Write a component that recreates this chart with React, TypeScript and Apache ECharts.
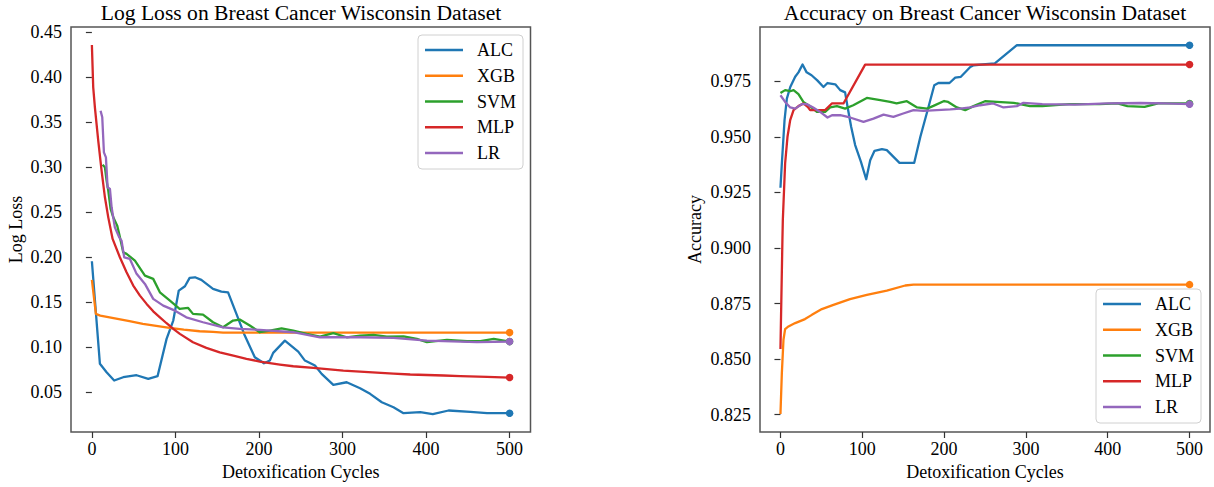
import React, { useEffect, useRef } from "react";
import * as echarts from "echarts";

type Pt = [number, number];

const modelNames = ["ALC", "XGB", "SVM", "MLP", "LR"];
const modelColors = ["#1f77b4", "#ff7f0e", "#2ca02c", "#d62728", "#9467bd"];

const cycleTicks = [0, 100, 200, 300, 400, 500];
const lossTicks = [0.05, 0.1, 0.15, 0.2, 0.25, 0.3, 0.35, 0.4, 0.45];
const accTicks = [0.825, 0.85, 0.875, 0.9, 0.925, 0.95, 0.975];

// Log loss (left panel): [cycle, value]
const lossALC: Pt[] = [
  [0, 0.1956], [9.6, 0.0816], [17.6, 0.0722], [26.7, 0.063], [37.5, 0.0667], [53.5, 0.0689],
  [67.5, 0.0649], [78.6, 0.0678], [89.4, 0.1093], [97.4, 0.1297], [104, 0.163], [111.4, 0.1678],
  [117, 0.1771], [123.4, 0.1778], [131, 0.1749], [145, 0.1649], [155, 0.1619], [163, 0.1611],
  [173, 0.1371], [183, 0.113], [195, 0.0889], [206, 0.0822], [213, 0.0852], [217, 0.0938],
  [231, 0.1074], [247, 0.0952], [255, 0.0852], [267, 0.0797], [275, 0.0704], [289, 0.0582],
  [305, 0.0611], [321, 0.0544], [333, 0.0482], [347, 0.0389], [361, 0.0333], [373, 0.0267],
  [393, 0.0278], [408, 0.0256], [427, 0.0297], [453, 0.0282], [473, 0.0267], [500, 0.0267],
];
const lossXGB: Pt[] = [
  [0, 0.1749], [4.8, 0.1371], [10, 0.1352], [27.5, 0.1322], [45, 0.129], [61, 0.126],
  [75, 0.124], [93, 0.1216], [110, 0.1195], [129, 0.1178], [145, 0.117], [157, 0.1163], [500, 0.1163],
];
const lossSVM: Pt[] = [
  [12.8, 0.303], [15.6, 0.3], [17.6, 0.2852], [19.6, 0.2741], [22.4, 0.2538], [25.6, 0.2444],
  [30.3, 0.2352], [32.7, 0.226], [37.5, 0.2056], [41.5, 0.2038], [51.5, 0.1963], [63.5, 0.1797],
  [73.4, 0.176], [81.4, 0.1611], [93.4, 0.1519], [105, 0.1427], [115, 0.1438], [121, 0.1371],
  [133, 0.1363], [145, 0.1278], [157, 0.1222], [169, 0.1297], [177, 0.1308], [189, 0.1241],
  [201, 0.1167], [213, 0.1186], [227, 0.1211], [241, 0.1186], [257, 0.1149], [273, 0.1119],
  [289, 0.1156], [305, 0.1111], [321, 0.113], [337, 0.1138], [353, 0.1119], [373, 0.1122],
  [389, 0.1093], [401, 0.1056], [425, 0.1082], [449, 0.1067], [465, 0.1067], [481, 0.1093], [500, 0.1063],
];
const lossMLP: Pt[] = [
  [0, 0.436], [1.6, 0.3889], [3.6, 0.3667], [7.6, 0.3297], [11.6, 0.2963], [15.6, 0.2667],
  [19.6, 0.2444], [24.8, 0.2204], [33.5, 0.2], [41.5, 0.1833], [49.5, 0.1686], [57.5, 0.1574],
  [65.5, 0.1482], [73.4, 0.14], [81.4, 0.1333], [89.4, 0.1267], [97.4, 0.1204], [105.3, 0.1149],
  [121, 0.1056], [137, 0.0993], [153, 0.0944], [169.3, 0.0908], [185, 0.0871], [201, 0.0841],
  [225, 0.0808], [241, 0.0789], [265, 0.0771], [301, 0.0741], [321, 0.073], [361, 0.0708],
  [381, 0.0697], [421, 0.0686], [441, 0.0678], [473, 0.0671], [500, 0.0663],
];
const lossLR: Pt[] = [
  [10.4, 0.363], [12.4, 0.3556], [14.4, 0.3167], [16.8, 0.3111], [18.8, 0.2778], [21.6, 0.276],
  [23.6, 0.2556], [27.5, 0.2333], [32.7, 0.2222], [35.5, 0.2186], [38.7, 0.2], [45.5, 0.1982],
  [53.5, 0.1816], [63.5, 0.1704], [73.4, 0.1538], [85.4, 0.1463], [97.4, 0.1416], [113, 0.1333],
  [133, 0.1278], [157, 0.1222], [177, 0.1204], [201, 0.1193], [241, 0.1167], [273, 0.1111],
  [321, 0.1111], [361, 0.1104], [401, 0.1074], [461, 0.1056], [500, 0.1063],
];

// Accuracy (right panel): [cycle, value]
const accALC: Pt[] = [
  [0, 0.9271], [1.7, 0.938], [5, 0.9575], [7.8, 0.9672], [12, 0.9724], [18, 0.977], [22, 0.979],
  [27, 0.9825], [32, 0.979], [38, 0.9777], [45, 0.9754], [52.6, 0.9724], [57.5, 0.9742], [67, 0.9736],
  [73, 0.971], [79, 0.97], [82, 0.9635], [86.4, 0.9545], [91.3, 0.9463], [98.3, 0.9388],
  [104.8, 0.9309], [109.7, 0.9395], [115, 0.9437], [124, 0.9445], [130, 0.944], [145.5, 0.9383],
  [163.5, 0.9383], [171, 0.95], [181, 0.9635], [188, 0.9732], [193, 0.9742], [206.6, 0.9742],
  [213.6, 0.9766], [220.5, 0.977], [232, 0.9814], [236, 0.9822], [262, 0.983], [289, 0.9912], [500, 0.9912],
];
const accXGB: Pt[] = [
  [0, 0.8253], [1.7, 0.8437], [3.7, 0.8587], [5.7, 0.8635], [9.8, 0.8647], [18, 0.8662], [30, 0.868],
  [38.4, 0.8699], [50.6, 0.8725], [64.8, 0.8744], [85, 0.877], [105.6, 0.8789], [130, 0.8808],
  [152.5, 0.8831], [162.6, 0.8835], [500, 0.8835],
];
const accSVM: Pt[] = [
  [0, 0.9697], [5.7, 0.971], [12, 0.9705], [16, 0.971], [22, 0.9692], [28, 0.9657], [36, 0.9638],
  [44.5, 0.9612], [54.6, 0.9612], [60.7, 0.9632], [69, 0.9638], [79, 0.9627], [89, 0.9642],
  [105.6, 0.9675], [122, 0.9665], [134, 0.9657], [142, 0.965], [154.5, 0.966], [167, 0.9632],
  [179, 0.9627], [187, 0.9639], [200, 0.9661], [205, 0.9657], [215.6, 0.9632], [225.8, 0.962],
  [236, 0.9638], [250, 0.966], [264.5, 0.9657], [285, 0.9653], [305, 0.9638], [320, 0.9638],
  [353, 0.9647], [390, 0.9647], [412, 0.965], [424, 0.9638], [445, 0.9635], [461.5, 0.965], [500, 0.965],
];
const accMLP: Pt[] = [
  [0, 0.8545], [2.4, 0.9036], [2.9, 0.9126], [5.7, 0.938], [8.6, 0.95], [11.9, 0.9575], [16, 0.962],
  [22, 0.9638], [28, 0.965], [34, 0.9632], [36.3, 0.962], [54.6, 0.962], [62.8, 0.965], [77, 0.965],
  [103.5, 0.9825], [500, 0.9825],
];
const accLR: Pt[] = [
  [0, 0.9687], [5.7, 0.9657], [12, 0.9632], [18, 0.9627], [26, 0.9647], [32, 0.9647], [40, 0.9632],
  [48.5, 0.9612], [57.5, 0.9587], [63, 0.9597], [73, 0.9597], [85, 0.9587], [101.5, 0.9567],
  [113.7, 0.9582], [126, 0.96], [138, 0.959], [150, 0.9605], [162.6, 0.962], [175, 0.9617],
  [191, 0.962], [207.5, 0.9623], [219.7, 0.9627], [232, 0.9632], [244, 0.9642], [260, 0.965],
  [272.6, 0.9632], [289, 0.9638], [297, 0.9653], [320, 0.9647], [360, 0.9645], [400, 0.965],
  [440, 0.9652], [470, 0.965], [500, 0.9647],
];

const lossSeries = [lossALC, lossXGB, lossSVM, lossMLP, lossLR];
const accSeries = [accALC, accXGB, accSVM, accMLP, accLR];

const FONT = "'Liberation Serif', 'Times New Roman', serif";

function makeXAxis(gridIndex: number) {
  return {
    type: "value",
    gridIndex,
    min: -25,
    max: 525,
    name: "Detoxification Cycles",
    nameLocation: "middle",
    nameGap: 28,
    nameTextStyle: { fontFamily: FONT, fontSize: 18, color: "#000" },
    axisLine: { show: false },
    axisTick: { show: true, customValues: cycleTicks, length: 6, lineStyle: { color: "#333", width: 1.2 } },
    axisLabel: { customValues: cycleTicks, margin: 8, fontFamily: FONT, fontSize: 18, color: "#000" },
    splitLine: { show: false },
  };
}

function makeYAxis(gridIndex: number, name: string, min: number, max: number, ticks: number[], digits: number, gap: number) {
  return {
    type: "value",
    gridIndex,
    min,
    max,
    name,
    nameLocation: "middle",
    nameGap: gap,
    nameTextStyle: { fontFamily: FONT, fontSize: 18, color: "#000" },
    axisLine: { show: false },
    axisTick: { show: true, customValues: ticks, length: 6, lineStyle: { color: "#333", width: 1.2 } },
    axisLabel: {
      customValues: ticks,
      margin: 9,
      fontFamily: FONT,
      fontSize: 18,
      color: "#000",
      formatter: (v: number) => v.toFixed(digits),
    },
    splitLine: { show: false },
  };
}

function makeSeries(data: Pt[], idx: number, axisIndex: number) {
  const last = data.length - 1;
  return {
    type: "line",
    name: modelNames[idx],
    xAxisIndex: axisIndex,
    yAxisIndex: axisIndex,
    data,
    symbol: "circle",
    showSymbol: true,
    showAllSymbol: true,
    symbolSize: (_v: any, p: any) => (p.dataIndex === last ? 7.5 : 0),
    lineStyle: { width: 2.3, color: modelColors[idx], join: "round" },
    itemStyle: { color: modelColors[idx] },
    emphasis: { disabled: true },
    silent: true,
    z: 2 + idx,
  };
}

function makeLegend(left: number, top: number) {
  return {
    orient: "vertical",
    left,
    top,
    data: modelNames,
    icon: "rect",
    itemWidth: 38,
    itemHeight: 2.5,
    itemGap: 7.75,
    padding: [6, 7, 7, 7],
    backgroundColor: "#fff",
    borderColor: "#d0d0d0",
    borderWidth: 1,
    borderRadius: 4,
    selectedMode: false,
    textStyle: { fontFamily: FONT, fontSize: 18, color: "#000", lineHeight: 18, padding: [0, 0, 0, 9] },
  };
}

export default function App() {
  const ref = useRef<HTMLDivElement>(null);
  useEffect(() => {
    if (!ref.current) return;
    const chart = echarts.init(ref.current, null, { renderer: "svg" });
    const gridStyle = { show: true, borderColor: "#555", borderWidth: 1.5, backgroundColor: "transparent" };
    chart.setOption({
      animation: false,
      backgroundColor: "#fff",
      grid: [
        { left: 71, top: 27, width: 459.5, height: 405, ...gridStyle },
        { left: 760, top: 27, width: 450, height: 405, ...gridStyle },
      ],
      xAxis: [makeXAxis(0), makeXAxis(1)],
      yAxis: [
        makeYAxis(0, "Log Loss", 0.0058, 0.456, lossTicks, 2, 46),
        makeYAxis(1, "Accuracy", 0.8172, 0.9994, accTicks, 3, 56),
      ],
      legend: [makeLegend(418, 35), makeLegend(1096, 289)],
      graphic: [
        {
          type: "text",
          x: 301,
          y: 13,
          style: {
            text: "Log Loss on Breast Cancer Wisconsin Dataset",
            fontFamily: FONT,
            fontSize: 21.6,
            fill: "#000",
            textAlign: "center",
            textVerticalAlign: "middle",
          },
        },
        {
          type: "text",
          x: 985,
          y: 13,
          style: {
            text: "Accuracy on Breast Cancer Wisconsin Dataset",
            fontFamily: FONT,
            fontSize: 21.6,
            fill: "#000",
            textAlign: "center",
            textVerticalAlign: "middle",
          },
        },
      ],
      series: [
        ...lossSeries.map((d, i) => makeSeries(d, i, 0)),
        ...accSeries.map((d, i) => makeSeries(d, i, 1)),
      ],
    });
    return () => chart.dispose();
  }, []);
  return (
    <div
      ref={ref}
      style={{ position: "fixed", left: 0, top: 0, width: 1214, height: 487, background: "#fff" }}
    />
  );
}
